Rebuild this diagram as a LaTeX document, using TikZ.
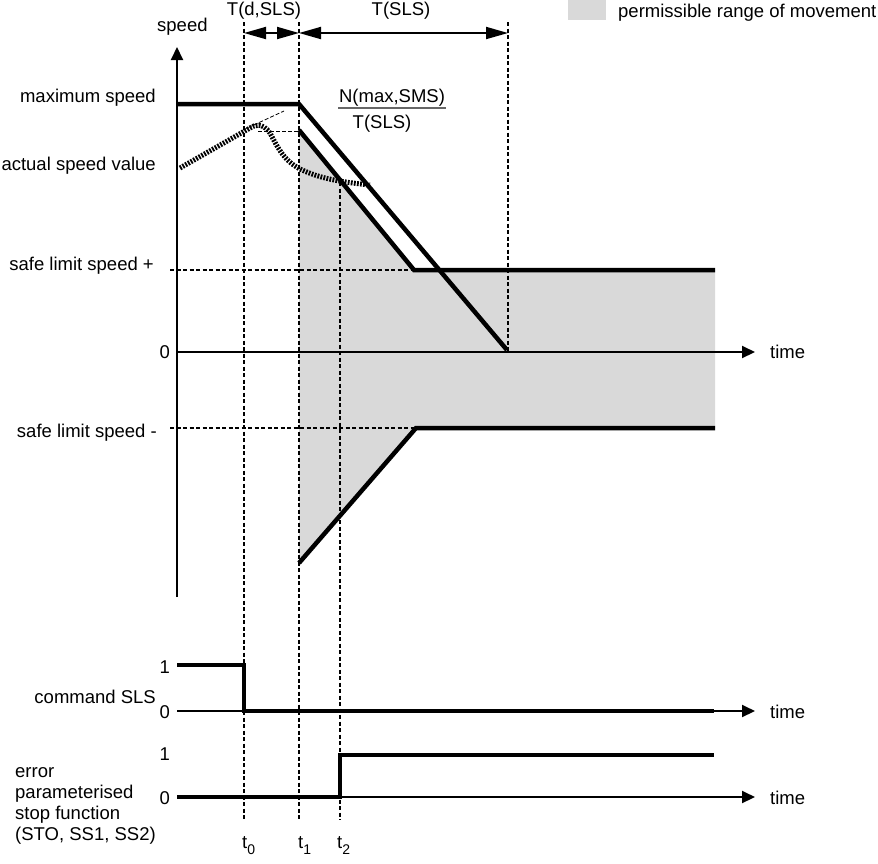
\documentclass[tikz,border=0pt]{standalone}
\usepackage{fontspec}
\setmainfont{Liberation Sans}
\usetikzlibrary{arrows.meta}
\begin{document}
\begin{tikzpicture}[x=1pt,y=-1pt,
  lbl/.style={inner sep=0pt, font=\fontsize{18.5}{21}\selectfont},
  thickline/.style={line width=4.5pt},
  axis/.style={line width=2pt, -{Triangle[length=13pt,width=12pt]}},
  guide/.style={line width=1.3pt, dash pattern=on 4pt off 2.5pt},
  thinguide/.style={line width=0.8pt, dash pattern=on 4pt off 2pt},
  dimarrow/.style={line width=1.8pt, {Triangle[length=22pt,width=12pt]}-{Triangle[length=22pt,width=12pt]}},
  zone/.style={fill=black!15},
  dotcurve/.style={line width=5pt, black, dash pattern=on 1.8pt off 1.3pt}]

\useasboundingbox (0,0) rectangle (878,863);

% key coordinates
\coordinate (Ybot) at (177,597);
\coordinate (Ytop) at (177,47);
\coordinate (X0) at (177,352);
\coordinate (Xend) at (755,352);
\coordinate (t0top) at (244,22);
\coordinate (t0bot) at (244,820);
\coordinate (t1top) at (299,22);
\coordinate (t1bot) at (299,820);
\coordinate (t2top) at (340,182);
\coordinate (t2bot) at (340,820);
\coordinate (tetop) at (508,22);
\coordinate (tebot) at (508,352);

% permissible range
\fill[zone] (299,130) -- (414,270) -- (715,270) -- (715,428) -- (416,428) -- (299,563) -- cycle;

% guides
\draw[guide] (t0top) -- (t0bot);
\draw[guide] (t1top) -- (t1bot);
\draw[guide] (t2top) -- (t2bot);
\draw[guide] (tetop) -- (tebot);
\draw[guide] (170,270) -- (414,270);
\draw[guide] (170,428) -- (416,428);
\draw[thinguide] (258,131) -- (299,131);
\draw[thinguide] (243,130) -- (284,111);

% actual speed value
\draw[dotcurve] (180,168) -- (250,128) .. controls (255,125) and (262,122) .. (270,133)
  .. controls (277,146) and (283,160) .. (300,169)
  .. controls (315,176) and (330,181) .. (370,185);

% axes
\draw[axis] (Ybot) -- (Ytop);
\draw[axis] (X0) -- (Xend);

% limits
\draw[thickline] (177,104) -- (299,104) -- (507,350);
\draw[thickline] (299,130) -- (414,270) -- (715,270);
\draw[thickline] (299,563) -- (416,428) -- (715,428);

% time spans
\draw[dimarrow] (244,33) -- (299,33);
\draw[dimarrow] (299,33) -- (508,33);

% labels of the speed diagram
\node[lbl, anchor=base west] (speed) at (157,31) {speed};
\node[lbl, anchor=base] (tdsls) at (264,15) {T(d,SLS)};
\node[lbl, anchor=base] (tsls) at (401,15) {T(SLS)};
\node[lbl, anchor=base] (num) at (392,102) {N(max,SMS)};
\draw[line width=1.5pt, black!60] (338,108) -- (446,108);
\node[lbl, anchor=base] (den) at (382,128) {T(SLS)};
\node[lbl, anchor=base east] (maxs) at (156,102) {maximum speed};
\node[lbl, anchor=base east] (acts) at (156,170) {actual speed value};
\node[lbl, anchor=base east] (slsp) at (154,270) {safe limit speed +};
\node[lbl, anchor=base east] (zero) at (170,358) {0};
\node[lbl, anchor=base east] (slsm) at (157,437) {safe limit speed -};
\node[lbl, anchor=base west] (time1) at (770,358) {time};

% legend
\fill[zone] (568,0) rectangle (606,20);
\node[lbl, anchor=base west] (legend) at (618,17) {permissible range of movement};

% command SLS
\draw[axis] (177,711) -- (755,711);
\draw[thickline] (177,665) -- (244,665) -- (244,711) -- (714,711);
\node[lbl, anchor=base east] (c1) at (170,673) {1};
\node[lbl, anchor=base east] (c0) at (170,718) {0};
\node[lbl, anchor=base east] (cmd) at (156,703) {command SLS};
\node[lbl, anchor=base west] (time2) at (770,718) {time};

% error stop function
\draw[axis] (177,797) -- (755,797);
\draw[thickline] (177,797) -- (340,797) -- (340,755) -- (714,755);
\node[lbl, anchor=base east] (e1) at (170,760) {1};
\node[lbl, anchor=base east] (e0) at (170,804) {0};
\node[lbl, anchor=base west] (err1) at (15,777) {error};
\node[lbl, anchor=base west] (err2) at (15,798) {parameterised};
\node[lbl, anchor=base west] (err3) at (15,819) {stop function};
\node[lbl, anchor=base west] (err4) at (15,840) {(STO, SS1, SS2)};
\node[lbl, anchor=base west] (time3) at (770,804) {time};

% time marks
\node[lbl, anchor=base west] (lt0) at (242,848) {t\raisebox{-6pt}{\fontsize{14}{14}\selectfont 0}};
\node[lbl, anchor=base west] (lt1) at (298,848) {t\raisebox{-6pt}{\fontsize{14}{14}\selectfont 1}};
\node[lbl, anchor=base west] (lt2) at (337,848) {t\raisebox{-6pt}{\fontsize{14}{14}\selectfont 2}};
\end{tikzpicture}
\end{document}
